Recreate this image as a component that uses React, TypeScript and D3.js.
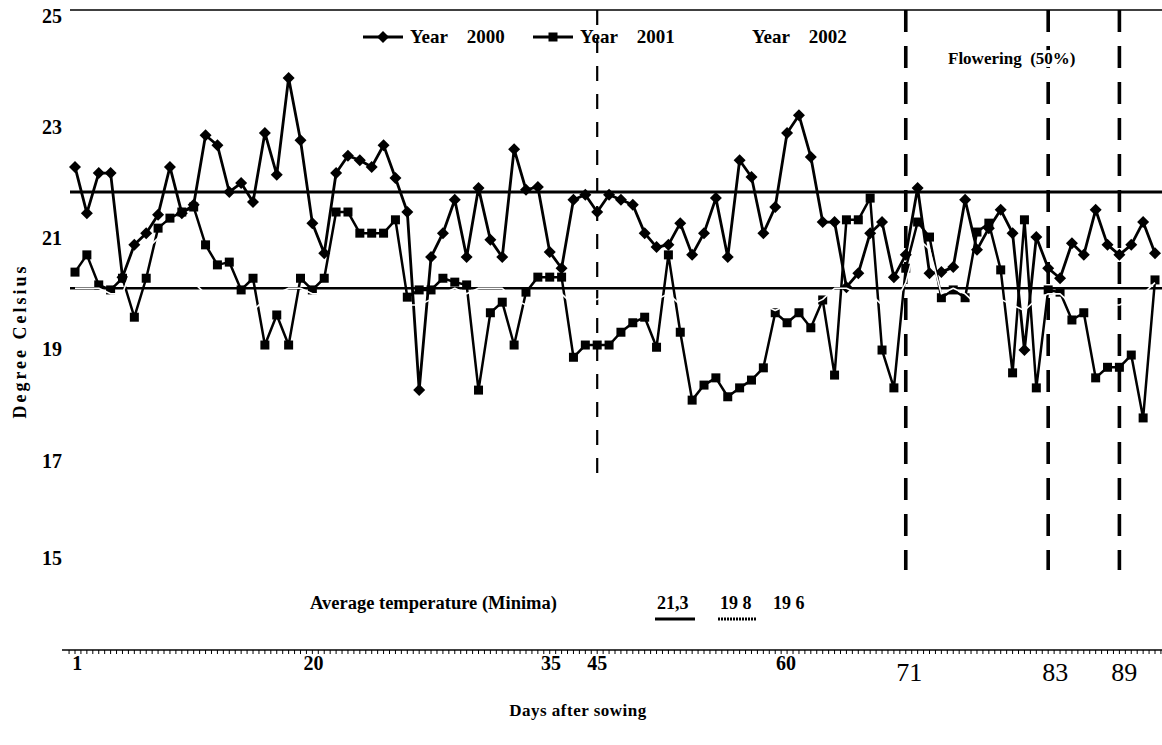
import React from "react";
import * as d3 from "d3";

const days: number[] = Array.from({ length: 92 }, (_, i) => i + 1);

const year2000 = [
  22.28, 21.45, 22.17, 22.17, 20.3, 20.88, 21.09, 21.42, 22.28, 21.45,
  21.6, 22.85, 22.67, 21.83, 21.99, 21.65, 22.89, 22.14, 23.88, 22.76,
  21.27, 20.73, 22.17, 22.48, 22.4, 22.28, 22.67, 22.08, 21.47, 18.27,
  20.66, 21.09, 21.69, 20.66, 21.9, 20.97, 20.66, 22.6, 21.87, 21.92,
  20.75, 20.46, 21.69, 21.78, 21.47, 21.78, 21.69, 21.6, 21.09, 20.84,
  20.88, 21.27, 20.7, 21.09, 21.72, 20.66, 22.4, 22.1, 21.09, 21.56,
  22.89, 23.21, 22.46, 21.29, 21.29, 20.12, 20.37, 21.09, 21.29, 20.3,
  20.7, 21.9, 20.37, 20.39, 20.48, 21.69, 20.79, 21.18, 21.51, 21.09,
  18.99, 21.02, 20.46, 20.28, 20.91, 20.7, 21.51, 20.88, 20.7, 20.88,
  21.29, 20.73,
];

const year2001 = [
  20.39, 20.7, 20.16, 20.07, 20.28, 19.58, 20.28, 21.18, 21.36, 21.47,
  21.56, 20.88, 20.52, 20.57, 20.07, 20.28, 19.08, 19.62, 19.08, 20.28,
  20.07, 20.28, 21.47, 21.47, 21.09, 21.09, 21.09, 21.33, 19.94, 20.07,
  20.07, 20.28, 20.21, 20.16, 18.27, 19.66, 19.85, 19.08, 20.03, 20.3,
  20.3, 20.3, 18.86, 19.08, 19.08, 19.08, 19.31, 19.48, 19.58, 19.04,
  20.7, 19.31, 18.09, 18.36, 18.49, 18.15, 18.31, 18.45, 18.67, 19.66,
  19.48, 19.66, 19.39, 19.89, 18.54, 21.33, 21.33, 21.72, 18.99, 18.31,
  20.46, 21.29, 21.02, 19.93, 20.07, 19.93, 21.11, 21.27, 20.43, 18.58,
  21.33, 18.31, 20.07, 20.03, 19.53, 19.66, 18.49, 18.68, 18.68, 18.9,
  17.77, 20.25,
];

const year2002 = [
  20.1, 20.1, 20.1, 20.0, 20.0, 20.6, 20.8, 21.0, 20.9, 20.5,
  20.2, 20.0, 19.8, 19.9, 19.9, 19.7, 19.9, 20.0, 20.1, 20.1,
  20.0, 20.0, 19.8, 19.9, 19.9, 19.9, 19.9, 19.9, 19.8, 19.8,
  19.9, 20.0, 20.1, 20.0, 20.1, 20.1, 20.1, 19.9, 19.8, 19.8,
  19.9, 20.0, 19.8, 19.9, 19.9, 20.0, 19.8, 19.7, 19.8, 19.9,
  20.0, 19.8, 19.7, 19.6, 19.7, 19.7, 19.8, 19.7, 19.8, 19.7,
  19.8, 19.8, 19.8, 19.9, 20.1, 20.1, 20.0, 20.0, 19.8, 19.8,
  20.2, 21.0, 20.8, 20.0, 20.1, 20.0, 19.8, 19.8, 19.9, 19.8,
  19.7, 19.9, 20.0, 20.0, 19.8, 19.8, 19.7, 19.8, 19.8, 19.9,
  20.0, 20.2,
];

const yTickLabels = ["15", "17", "19", "21", "23", "25"];
const yTickLabelAt = [15.25, 17, 19, 21, 23, 25];
const xTickLabels = ["1", "20", "35", "45", "60", "71", "83", "89"];
const xTickLabelAt = [1.2, 21.1, 41.1, 45, 60.9, 71.3, 83.6, 89.4];
const floweringDays = [45, 71, 83, 89];
const averageLines = [21.83, 20.1];
const averageTexts = ["21,3", "19 8", "19 6"];
const legendNames = ["Year    2000", "Year    2001", "Year    2002"];

const SERIF = "'Liberation Serif', 'Times New Roman', serif";

export default function App() {
  const W = 1162;
  const H = 745;
  const x = d3.scaleLinear().domain([1, 92]).range([75, 1155]);
  const y = d3.scaleLinear().domain([13.6, 25.1]).range([650, 10]);
  const line = d3
    .line<number>()
    .x((_, i) => x(days[i]))
    .y((d) => y(d));

  const halfTicks: number[] = [];
  for (let t = 0.5; t <= 92.6; t += 0.5) halfTicks.push(t);

  const diamond = (cx: number, cy: number, r: number) =>
    `M${cx},${cy - r}L${cx + r},${cy}L${cx},${cy + r}L${cx - r},${cy}Z`;

  const xEnd = 1162;

  return (
    <svg
      width={W}
      height={H}
      style={{ position: "absolute", left: 0, top: 0, background: "#fff" }}
      fontFamily={SERIF}
    >
      <rect x={0} y={0} width={W} height={H} fill="#fff" />

      {/* top frame line */}
      <line x1={70} x2={xEnd} y1={y(25.1)} y2={y(25.1)} stroke="#000" strokeWidth={1.3} />

      {/* average reference lines */}
      <line x1={70} x2={xEnd} y1={y(averageLines[0])} y2={y(averageLines[0])} stroke="#000" strokeWidth={3.2} />
      <line x1={70} x2={xEnd} y1={y(averageLines[1])} y2={y(averageLines[1])} stroke="#000" strokeWidth={2.6} />

      {/* flowering dashed lines */}
      {floweringDays.map((d, i) => (
        <line
          key={"f" + d}
          x1={x(d)}
          x2={x(d)}
          y1={y(25.1)}
          y2={i === 0 ? 485 : 570}
          stroke="#000"
          strokeWidth={i === 0 ? 2.2 : 3.6}
          strokeDasharray={i === 0 ? "15 13" : "22 14"}
        />
      ))}

      {/* Year 2001 */}
      <path d={line(year2001) || ""} fill="none" stroke="#000" strokeWidth={2.5} strokeLinejoin="round" />
      {year2001.map((v, i) => (
        <rect key={"s" + i} x={x(days[i]) - 4.5} y={y(v) - 4.5} width={9} height={9} fill="#000" />
      ))}

      {/* Year 2000 */}
      <path d={line(year2000) || ""} fill="none" stroke="#000" strokeWidth={2.8} strokeLinejoin="round" />
      {year2000.map((v, i) => (
        <path key={"d" + i} d={diamond(x(days[i]), y(v), 6)} fill="#000" />
      ))}

      {/* Year 2002 (white) */}
      <path d={line(year2002) || ""} fill="none" stroke="#fff" strokeWidth={1.6} strokeLinejoin="round" />

      {/* bottom axis */}
      <line x1={62} x2={xEnd} y1={y(13.6)} y2={y(13.6)} stroke="#000" strokeWidth={1.4} />
      {halfTicks.map((t) => (
        <line key={"t" + t} x1={x(t)} x2={x(t)} y1={y(13.6)} y2={y(13.6) + 4} stroke="#000" strokeWidth={1} />
      ))}

      {/* y tick labels */}
      {yTickLabels.map((lab, i) => (
        <text
          key={"y" + lab}
          x={62}
          y={y(yTickLabelAt[i]) + 7}
          textAnchor="end"
          fontSize={20}
          fontWeight="bold"
        >
          {lab}
        </text>
      ))}

      {/* x tick labels */}
      {xTickLabels.map((lab, i) => {
        const big = i >= 5;
        return (
          <text
            key={"x" + lab}
            x={x(xTickLabelAt[i])}
            y={big ? 681 : 670}
            textAnchor="middle"
            fontSize={big ? 26 : 20}
            fontWeight={big ? "normal" : "bold"}
          >
            {lab}
          </text>
        );
      })}

      {/* legend */}
      <line x1={363} x2={403} y1={37} y2={37} stroke="#000" strokeWidth={2.8} />
      <path d={diamond(383, 37, 6)} fill="#000" />
      <text x={410} y={43} fontSize={19} fontWeight="bold" style={{ whiteSpace: "pre" }}>
        {legendNames[0]}
      </text>
      <line x1={533} x2={573} y1={37} y2={37} stroke="#000" strokeWidth={2.8} />
      <rect x={548.5} y={32.5} width={9} height={9} fill="#000" />
      <text x={580} y={43} fontSize={19} fontWeight="bold" style={{ whiteSpace: "pre" }}>
        {legendNames[1]}
      </text>
      <line x1={705} x2={745} y1={37} y2={37} stroke="#fff" strokeWidth={1.6} />
      <text x={752} y={43} fontSize={19} fontWeight="bold" style={{ whiteSpace: "pre" }}>
        {legendNames[2]}
      </text>

      <text
        x={948}
        y={64}
        fontSize={17}
        fontWeight="bold"
        stroke="#fff"
        strokeWidth={6}
        style={{ whiteSpace: "pre", paintOrder: "stroke" }}
      >
        {"Flowering  (50%)"}
      </text>

      {/* averages */}
      <text x={310} y={609} fontSize={18.5} fontWeight="bold">
        Average temperature (Minima)
      </text>
      <text x={657} y={609} fontSize={18} fontWeight="bold">{averageTexts[0]}</text>
      <text x={720} y={609} fontSize={18} fontWeight="bold">{averageTexts[1]}</text>
      <text x={773} y={609} fontSize={18} fontWeight="bold">{averageTexts[2]}</text>
      <line x1={655} x2={695} y1={619} y2={619} stroke="#000" strokeWidth={3} />
      <line x1={718} x2={757} y1={619} y2={619} stroke="#000" strokeWidth={3} strokeDasharray="2 1" />

      {/* axis titles */}
      <text x={578} y={716} textAnchor="middle" fontSize={17} fontWeight="bold" letterSpacing={0.5}>
        Days after sowing
      </text>
      <text
        transform="translate(26,341) rotate(-90)"
        textAnchor="middle"
        fontSize={18}
        fontWeight="bold"
        letterSpacing={3}
      >
        Degree Celsius
      </text>
    </svg>
  );
}
